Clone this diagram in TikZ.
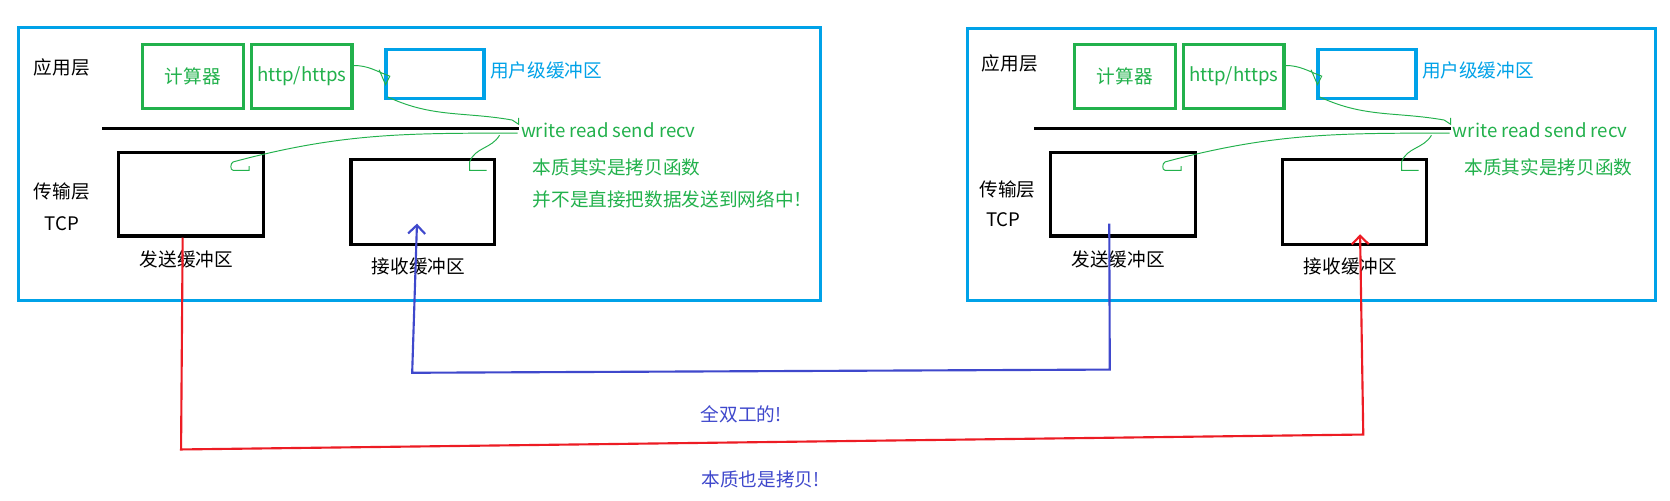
\documentclass[tikz,border=0pt]{standalone}
\usepackage{fontspec}
\setmainfont{Noto Sans CJK SC}
\usetikzlibrary{arrows.meta}
\definecolor{pgreen}{RGB}{34,177,76}
\definecolor{pblue}{RGB}{0,162,232}
\definecolor{pred}{RGB}{237,28,36}
\definecolor{pindigo}{RGB}{63,72,204}
\tikzset{
  txt/.style={font=\fontsize{17.5}{20}\selectfont, inner sep=0pt},
  panel/.style={draw=pblue, line width=3pt, anchor=north west, inner sep=0pt},
  appbox/.style={draw=pgreen, line width=3pt, anchor=north west, inner sep=0pt, text=pgreen, font=\fontsize{17.5}{20}\selectfont},
  ubox/.style={draw=pblue, line width=3pt, anchor=north west, inner sep=0pt},
  bufbox/.style={draw=black, line width=3pt, anchor=north west, inner sep=0pt},
  hand/.style={draw=pgreen, line width=0.9pt},
  conn/.style={line width=2pt, -{Straight Barb[length=8pt,width=16pt,line width=2pt]}},
}
\begin{document}
\begin{tikzpicture}[x=1pt,y=-1pt]
\useasboundingbox[fill=white] (0,0) rectangle (1568,470);

% outer panels
\node[panel, minimum width=753, minimum height=257] (L-panel) at (16,24) {};
\node[panel, minimum width=646, minimum height=256] (R-panel) at (907,25) {};

% layer labels
\node[txt] (L-app) at (58,63) {应用层};
\node[txt] (L-trans) at (58,180) {传输层};
\node[txt] (L-tcp) at (58,210) {TCP};
\node[txt] (R-app) at (948,60) {应用层};
\node[txt] (R-trans) at (946,178) {传输层};
\node[txt] (R-tcp) at (942,206) {TCP};

\foreach \p/\o in {L/0, R/875} {
  \node[appbox, minimum width=95, minimum height=60] (\p-calc) at ({\o+132},40) {计算器\hspace{18pt}};
  \node[appbox, minimum width=94, minimum height=60] (\p-http) at ({\o+235},40) {http/https};
  \node[ubox, minimum width=92, minimum height=46] (\p-ubuf) at ({\o+361},45) {};
  \node[txt, text=pblue, anchor=west] (\p-ubuflab) at ({\o+460},66) {用户级缓冲区};
  \node[txt, text=pgreen, anchor=west] (\p-write) at ({\o+489},122) {write read send recv};
  \node[txt, text=pgreen, anchor=west] (\p-copy) at ({\o+500},157) {本质其实是拷贝函数};
  \node[bufbox, minimum width=136, minimum height=78] (\p-send) at ({\o+110},142) {};
  \node[bufbox, minimum width=135, minimum height=80] (\p-recv) at ({\o+328},148) {};
  \node[txt] (\p-sendlab) at ({\o+175},244) {发送缓冲区};
  \node[txt] (\p-recvlab) at ({\o+393},250) {接收缓冲区};
  \coordinate (\p-lineA) at ({\o+96},121);
  \coordinate (\p-lineB) at ({\o+487},121);
  \draw[line width=3pt] (\p-lineA) -- (\p-lineB);
  % hand-drawn green strokes
  \draw[hand] ([yshift=10pt]\p-http.east) to[out=0,in=160] ([xshift=5pt,yshift=-2pt]\p-ubuf.west)
      -- ++(-4,8) -- ++(-6,-14);
  \draw[hand] ([xshift=3pt,yshift=3pt]\p-ubuf.south west) to[out=-25,in=170]
      ([xshift=-8pt,yshift=2pt]\p-write.north west) -- ++(6,4) -- ++(0,-6);
  \draw[hand] ([xshift=-3pt,yshift=-3pt]\p-write.west) to[out=180,in=15]
      ([xshift=-30pt,yshift=-10pt]\p-send.north east) to[out=200,in=180] ++(0,8) -- ++(15,0) -- ++(0,-4);
  \draw[hand] ([xshift=-20pt,yshift=-5pt]\p-write.west) to[out=240,in=70]
      ([xshift=-25pt,yshift=-4pt]\p-recv.north east) -- ++(0,8) -- ++(16,0);
}
\node[txt, text=pgreen, anchor=west] (L-note) at (500,187) {并不是直接把数据发送到网络中！};

% red connector: left send -> right receive
\coordinate (r1) at (170,422);
\coordinate (r2) at (1280,408);
\draw[conn, draw=pred] ([xshift=-8pt]L-send.south) -- (r1) -- (r2) -- ([xshift=5pt,yshift=11pt]R-recv.south);

% blue connector: right send -> left receive
\coordinate (b1) at (1042,347);
\coordinate (b2) at (387,350);
\draw[conn, draw=pindigo] ([xshift=-13pt,yshift=13pt]R-send.south) -- (b1) -- (b2) -- ([xshift=-5.5pt,yshift=21pt]L-recv.south);

\node[txt, text=pindigo] (dup) at (696,389) {全双工的!};
\node[txt, text=pindigo] (copy2) at (714,450) {本质也是拷贝!};
\end{tikzpicture}
\end{document}
